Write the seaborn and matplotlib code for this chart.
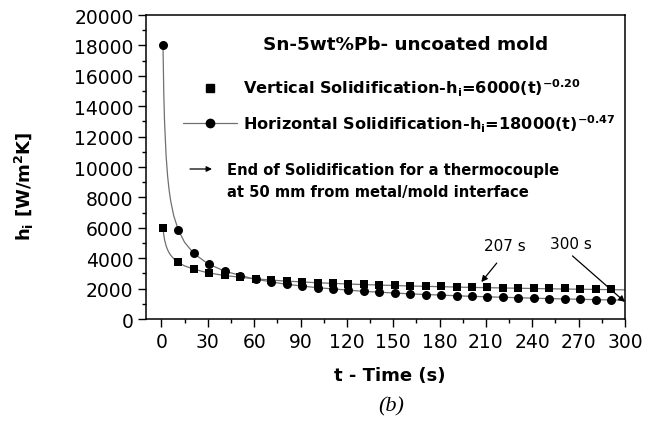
import matplotlib
matplotlib.use("Agg")
import matplotlib.pyplot as plt
from matplotlib.lines import Line2D
from matplotlib.ticker import MultipleLocator
import seaborn as sns

# ---- data ----
t_exp = [1, 11, 21, 31, 41, 51, 61, 71, 81, 91, 101, 111, 121, 131, 141,
         151, 161, 171, 181, 191, 201, 211, 221, 231, 241, 251, 261, 271, 281, 291]
h_vertical = [6000, 3730, 3270, 3050, 2870, 2740, 2640, 2560, 2500, 2440,
              2390, 2350, 2310, 2270, 2240, 2210, 2190, 2160, 2140, 2120,
              2100, 2080, 2070, 2050, 2040, 2020, 2010, 2000, 1990, 1980]
h_horizontal = [18000, 5850, 4330, 3620, 3160, 2860, 2620, 2440, 2290, 2170,
                2060, 1970, 1890, 1820, 1760, 1700, 1650, 1610, 1560, 1520,
                1490, 1460, 1420, 1390, 1370, 1340, 1320, 1290, 1270, 1250]

t_fit = [1, 1.5, 2, 3, 4, 5, 6, 8, 11, 15, 21, 30, 41, 60, 80, 100, 130,
         160, 200, 250, 300]
fit_vertical = [6000, 5533, 5223, 4817, 4547, 4349, 4193, 3959, 3715, 3491,
                3277, 3039, 2861, 2646, 2498, 2389, 2267, 2175, 2080, 1989, 1917]
fit_horizontal = [18000, 14873, 12996, 10740, 9384, 8448, 7755, 6774, 5833,
                  5041, 4305, 3639, 3143, 2628, 2295, 2067, 1826, 1657, 1492,
                  1343, 1233]

x_ticks = [0, 30, 60, 90, 120, 150, 180, 210, 240, 270, 300]
y_ticks = [0, 2000, 4000, 6000, 8000, 10000, 12000, 14000, 16000, 18000, 20000]

title_text = "Sn-5wt%Pb- uncoated mold"
label_vertical = r"Vertical Solidification-h$_i$=6000(t)$^{-0.20}$"
label_horizontal = r"Horizontal Solidification-h$_i$=18000(t)$^{-0.47}$"
note_lines = ["End of Solidification for a thermocouple",
              "at 50 mm from metal/mold interface"]
ann_207 = ("207 s", 207, 2430, 217, 3680, 222, 4850)
ann_300 = ("300 s", 300, 1120, 266, 4150, 265, 4950)

# ---- style ----
sns.set_theme(style="ticks")
plt.rcParams["font.family"] = ["DejaVu Sans"]
plt.rcParams["mathtext.fontset"] = "dejavusans"
plt.rcParams["mathtext.default"] = "bf"
plt.rcParams["text.color"] = "black"
plt.rcParams["axes.labelcolor"] = "black"
plt.rcParams["legend.labelcolor"] = "black"

fig = plt.figure(figsize=(6.58, 4.27), dpi=100)
W, H = 658, 427
ax = fig.add_axes([146 / W, 1 - 320 / H, (625 - 146) / W, (320 - 16) / H])

line_col = "#707070"
sns.lineplot(x=t_fit, y=fit_vertical, ax=ax, color=line_col, lw=0.9, sort=True)
sns.lineplot(x=t_fit, y=fit_horizontal, ax=ax, color=line_col, lw=0.9, sort=True)
sns.scatterplot(x=t_exp, y=h_vertical, ax=ax, marker="s", s=34, color="black",
                edgecolor="black", linewidth=0, zorder=3)
sns.scatterplot(x=t_exp, y=h_horizontal, ax=ax, marker="o", s=42, color="black",
                edgecolor="black", linewidth=0, zorder=3)

ax.set_xlim(-10, 300)
ax.set_ylim(0, 20000)
ax.set_xticks(x_ticks)
ax.set_yticks(y_ticks)
ax.xaxis.set_minor_locator(MultipleLocator(15))
ax.yaxis.set_minor_locator(MultipleLocator(1000))
ax.tick_params(axis="both", which="major", direction="out", length=6, width=1,
               labelsize=13.5, color="black", labelcolor="black", pad=3)
ax.tick_params(axis="both", which="minor", direction="out", length=3, width=1,
               color="black")
ax.tick_params(top=False, right=False, which="both")
for sp in ax.spines.values():
    sp.set_visible(True)
    sp.set_color("black")
    sp.set_linewidth(1.1)

def axf(px, py):
    return ((px - 146) / (625 - 146), (320 - py) / (320 - 16))

ax.set_xlabel("t - Time (s)", fontsize=13, fontweight="bold", color="black")
ax.xaxis.set_label_coords(*axf(390, 367))
ax.set_ylabel(r"h$_i$ [W/m$^2$K]", fontsize=13, fontweight="bold", color="black")
ax.yaxis.set_label_coords(*axf(36, 186))

# annotations with arrows
for txt, xh, yh, xt, yt, xl, yl in (ann_207, ann_300):
    ax.annotate("", xy=(xh, yh), xytext=(xt, yt),
                arrowprops=dict(arrowstyle="-|>", lw=0.9, color="black",
                                mutation_scale=9, shrinkA=0, shrinkB=0))
    ax.text(xl, yl, txt, ha="center", va="center", fontsize=11, color="black")

# legend-like block
ax.text(*axf(405.5, 45), title_text, transform=ax.transAxes, ha="center",
        va="center", fontsize=13.2, fontweight="bold", color="black")

handles = [Line2D([], [], ls="none", marker="s", color="black", markersize=5.5),
           Line2D([], [], ls="-", lw=0.9, marker="o", color=line_col,
                  markersize=6, mfc="black", mec="black")]
leg = ax.legend(handles, [label_vertical, label_horizontal], loc="upper left",
                bbox_to_anchor=axf(183, 78), frameon=False, borderpad=0,
                borderaxespad=0, handlelength=3.35, handletextpad=0.37,
                labelspacing=0.87, prop={"size": 11.6, "weight": "bold"})
for t in leg.get_texts():
    t.set_color("black")

ax.annotate("", xy=axf(212, 170), xytext=axf(190, 170), xycoords="axes fraction",
            textcoords="axes fraction",
            arrowprops=dict(arrowstyle="-|>", lw=0.9, color="black",
                            mutation_scale=8, shrinkA=0, shrinkB=0))
ax.text(*axf(227, 170), note_lines[0], transform=ax.transAxes, ha="left",
        va="center", fontsize=10.6, fontweight="bold", color="black")
ax.text(*axf(227, 192), note_lines[1], transform=ax.transAxes, ha="left",
        va="center", fontsize=10.6, fontweight="bold", color="black")

fig.text(391 / W, 1 - 407 / H, "(b)", ha="center", va="center", fontsize=16,
         family=["Liberation Serif", "DejaVu Serif"], style="italic",
         color="black")

fig.savefig("out.png", dpi=100, facecolor="white")
